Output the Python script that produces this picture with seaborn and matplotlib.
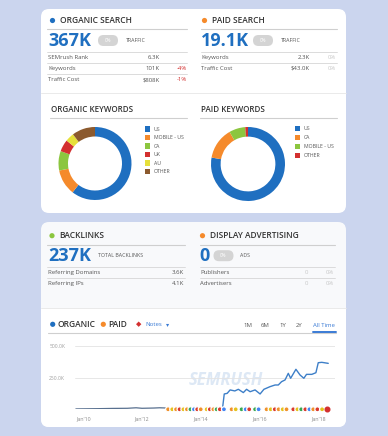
import matplotlib
matplotlib.use("Agg")
import matplotlib.pyplot as plt
import matplotlib.transforms as mtransforms
from matplotlib.patches import FancyBboxPatch, Circle, Rectangle
from matplotlib.lines import Line2D
import seaborn as sns
import pandas as pd

# ---------------- data ----------------
organic_labels = ["US", "MOBILE - US", "CA", "UK", "AU", "OTHER"]
organic_shares = [60.5, 11.4, 8.6, 5.3, 3.9, 10.3]
paid_labels = ["US", "CA", "MOBILE - US", "OTHER"]
paid_shares = [77.8, 13.9, 7.1, 1.2]

organic_rows = [("SEMrush Rank", "6.3K", ""), ("Keywords", "101K", "-4%"), ("Traffic Cost", "$808K", "-1%")]
paid_rows = [("Keywords", "2.3K", "0%"), ("Traffic Cost", "$43.0K", "0%")]
backlink_rows = [("Referring Domains", "3.6K"), ("Referring IPs", "4.1K")]
display_rows = [("Publishers", "0", "0%"), ("Advertisers", "0", "0%")]

early_dates = [2009.75, 2010.5, 2011.0, 2011.5, 2011.8, 2012.0, 2012.4, 2012.6, 2012.85]
early_traffic = [3000, 5000, 7000, 8000, 12000, 8000, 10000, 12000, 10000]
late_dates = [2014.74, 2014.80, 2014.90, 2015.00, 2015.16, 2015.28, 2015.45, 2015.56, 2015.68,
              2015.85, 2016.02, 2016.15, 2016.36, 2016.53, 2016.64, 2016.75, 2016.87, 2016.98,
              2017.06, 2017.24, 2017.38, 2017.51, 2017.60, 2017.78, 2017.92, 2018.00, 2018.12, 2018.34]
late_traffic = [5000, 121000, 126000, 153000, 145000, 158000, 132000, 158000, 139000,
                153000, 121000, 158000, 179000, 192000, 192000, 218000, 232000, 284000,
                245000, 316000, 271000, 245000, 276000, 276000, 289000, 368000, 371000, 363000]

note_dates = [2012.89, 2013.03, 2013.16, 2013.28, 2013.41, 2013.53, 2013.65, 2013.77, 2013.88, 2014.0,
              2014.2, 2014.31, 2014.43, 2014.54, 2014.65, 2014.79, 2015.05, 2015.19, 2015.39, 2015.53,
              2015.65, 2015.85, 2015.97, 2016.24, 2016.38, 2016.52, 2016.65, 2016.79, 2016.92, 2017.15,
              2017.29, 2017.42, 2017.56, 2017.7, 2017.83, 2017.97, 2018.13]
note_kind = ["O", "Y", "O", "R", "Y", "O", "G", "B", "R", "O",
             "Y", "R", "O", "G", "R", "B", "O", "Y", "G", "B",
             "R", "G", "B", "O", "Y", "R", "O", "Y", "O", "R",
             "Y", "G", "R", "B", "O", "R", "Y"]
xtick_years = [2010, 2012, 2014, 2016, 2018]
xtick_labels = ["Jan'10", "Jan'12", "Jan'14", "Jan'16", "Jan'18"]
ytick_values = [250000, 500000]
ytick_labels = ["250.0K", "500.0K"]

# ---------------- style ----------------
sns.set_theme(style="white")
plt.rcParams["font.family"] = ["Open Sans", "DejaVu Sans"]

W, H = 388, 436
BG = "#cbd5ee"
BLUE = "#1f6fc0"
ORANGE = "#f58a2b"
GREEN = "#8cc63f"
RED = "#d3302f"
YELLOW = "#e6e03a"
BROWN = "#8c5a2e"
DARK = "#333333"
MID = "#555555"
LINE = "#d6d6d6"

fig = plt.figure(figsize=(W / 100, H / 100), dpi=100, facecolor=BG)
px = mtransforms.Affine2D().scale(1 / W, -1 / H).translate(0, 1) + fig.transFigure


def T(x, y, s, size, color=DARK, ha="left", weight="normal", **kw):
    fig.text(x, y, s, fontsize=size, color=color, ha=ha, va="center",
             weight=weight, transform=px, **kw)


def hline(x0, x1, y, color=LINE, lw=0.6):
    fig.add_artist(Line2D([x0, x1], [y, y], color=color, lw=lw, transform=px, zorder=-1))


def rrect(x0, y0, x1, y1, r, color, zorder=-5):
    fig.add_artist(FancyBboxPatch((x0, y0), x1 - x0, y1 - y0,
                                  boxstyle=f"round,pad=0,rounding_size={r}",
                                  facecolor=color, edgecolor="none", transform=px, zorder=zorder))


def dot(x, y, r, color):
    fig.add_artist(Circle((x, y), r, facecolor=color, edgecolor="none", transform=px, zorder=2))


def pill(x0, x1, y, txt="0%"):
    rrect(x0, y - 5.5, x1, y + 5.5, 5.5, "#d4d4d4", zorder=1)
    T((x0 + x1) / 2, y, txt, 3.3, "white", ha="center")


# cards
rrect(41, 9, 346, 213, 8, "white", zorder=-10)
rrect(41, 222, 346, 427, 8, "#f8f9fb", zorder=-10)
fig.add_artist(Rectangle((41, 308), 305, 110, facecolor="white", edgecolor="none", transform=px, zorder=-9))
rrect(41, 400, 346, 427, 8, "white", zorder=-9)
hline(41, 346, 93, "#e6e6e6", 0.6)
hline(41, 346, 308, "#e6e6e6", 0.6)

# ---- organic search block
dot(52.5, 20.5, 2.6, BLUE)
T(60.5, 20.5, "ORGANIC SEARCH", 6, DARK, weight="semibold")
hline(47, 187, 29.5, "#cfcfcf", 0.8)
T(48.5, 40.5, "367K", 13, BLUE, weight="bold")
pill(98, 118, 40.5)
T(126, 40.5, "TRAFFIC", 3.8, MID)
hline(47, 187, 51.7)
ys = [57.3, 68.3, 79.5]
for (lab, val, pct), y in zip(organic_rows, ys):
    T(48, y, lab, 4.3, MID)
    T(159.5, y, val, 4.3, MID, ha="right")
    if pct:
        T(187, y, pct, 4.3, RED, ha="right")
hline(47, 187, 62.8)
hline(47, 187, 74)

# ---- paid search block
dot(204.5, 20.5, 2.6, ORANGE)
T(211.5, 20.5, "PAID SEARCH", 6, DARK, weight="semibold")
hline(201, 337, 29.5, "#cfcfcf", 0.8)
T(201, 40.5, "19.1K", 13, BLUE, weight="bold")
pill(253, 273, 40.5)
T(281, 40.5, "TRAFFIC", 3.8, MID)
hline(201, 337, 51.7)
for (lab, val, pct), y in zip(paid_rows, ys):
    T(201, y, lab, 4.3, MID)
    T(310, y, val, 4.3, MID, ha="right")
    T(336, y, pct, 4.3, "#c8c8c8", ha="right")
hline(201, 337, 62.8)

# ---- donuts
T(51, 109, "ORGANIC KEYWORDS", 5.8, DARK, weight="semibold")
hline(50, 187, 118, "#cfcfcf", 0.8)
T(201, 109, "PAID KEYWORDS", 5.8, DARK, weight="semibold")
hline(200, 337, 118, "#cfcfcf", 0.8)

org_colors = [BLUE, ORANGE, GREEN, RED, YELLOW, BROWN]
paid_colors = [BLUE, ORANGE, GREEN, RED]


def donut(cx, cy, r, shares, colors):
    ax = fig.add_axes([(cx - r) / W, 1 - (cy + r) / H, 2 * r / W, 2 * r / H])
    ax.pie(shares, colors=colors, startangle=90, counterclock=False,
           wedgeprops=dict(width=0.26, edgecolor="none"), radius=1)
    ax.set_xlim(-1, 1)
    ax.set_ylim(-1, 1)
    ax.set_aspect("equal")
    ax.axis("off")


donut(95, 163.5, 36.5, organic_shares, org_colors)
donut(248, 164, 37, paid_shares, paid_colors)

for i, (lab, col) in enumerate(zip(organic_labels, org_colors)):
    y = 129 + 8.5 * i
    fig.add_artist(Rectangle((145, y - 2.6), 5.2, 5.2, facecolor=col, edgecolor="none", transform=px))
    T(154, y, lab, 3.7, MID)
for i, (lab, col) in enumerate(zip(paid_labels, paid_colors)):
    y = 128.5 + 9.1 * i
    fig.add_artist(Rectangle((294.5, y - 2.6), 5.2, 5.2, facecolor=col, edgecolor="none", transform=px))
    T(303.5, y, lab, 3.7, MID)

# ---- backlinks
dot(52, 235.7, 2.6, GREEN)
T(59.5, 235.7, "BACKLINKS", 6, DARK, weight="semibold")
hline(47, 185, 244.5, "#cfcfcf", 0.8)
T(48.5, 255.7, "237K", 13, BLUE, weight="bold")
T(97.5, 255.7, "TOTAL BACKLINKS", 3.8, MID)
hline(47, 185, 266.7)
for (lab, val), y in zip(backlink_rows, [272.3, 283.3]):
    T(48, y, lab, 4.3, MID)
    T(184, y, val, 4.3, MID, ha="right")
hline(47, 185, 277.8)

# ---- display advertising
dot(202.5, 235.7, 2.6, ORANGE)
T(210, 235.7, "DISPLAY ADVERTISING", 6, DARK, weight="semibold")
hline(200, 335, 244.5, "#cfcfcf", 0.8)
T(199.5, 255.7, "0", 13, BLUE, weight="bold")
pill(213.5, 233.5, 255.7)
T(240, 255.7, "ADS", 3.8, MID)
hline(200, 335, 266.7)
for (lab, val, pct), y in zip(display_rows, [272.3, 283.3]):
    T(200, y, lab, 4.3, MID)
    T(306.7, y, val, 4.3, "#c8c8c8", ha="center")
    T(333.5, y, pct, 4.3, "#c8c8c8", ha="right")
hline(200, 335, 277.8)

# ---- chart header
dot(52.7, 324.3, 2.6, BLUE)
T(57.5, 324.3, "ORGANIC", 6, DARK, weight="semibold")
dot(103.3, 324.3, 2.6, ORANGE)
T(108.5, 324.3, "PAID", 6, DARK, weight="semibold")
T(138.3, 324.3, "◆", 5, RED, ha="center", family=["DejaVu Sans"])
T(145.5, 324.3, "Notes", 4.3, "#3a7bd5")
T(167.5, 324.3, "▾", 4.5, "#3a7bd5", ha="center", family=["DejaVu Sans"])
for lab, x in zip(["1M", "6M", "1Y", "2Y"], [248.3, 265, 282.7, 299.3]):
    T(x, 325, lab, 4.3, MID, ha="center")
T(324.3, 325, "All Time", 4.3, "#3a7bd5", ha="center")
hline(48, 336, 332.8, "#cfcfcf", 0.8)
fig.add_artist(Line2D([312.5, 336], [332.3, 332.3], color="#3a7bd5", lw=1.4, transform=px, zorder=1))

# ---- line chart
ax = fig.add_axes([75 / W, 1 - 409.3 / H, 260 / W, 63.3 / H])
ax.set_facecolor("none")
ax.text(0.58, 0.47, "SEMRUSH", transform=ax.transAxes, fontsize=12, color="#dde8f5",
        style="italic", weight="bold", ha="center", va="center", zorder=0)
early = pd.DataFrame({"date": early_dates, "traffic": early_traffic})
late = pd.DataFrame({"date": late_dates, "traffic": late_traffic})
sns.lineplot(data=early, x="date", y="traffic", ax=ax, color="#58708f", lw=0.9, zorder=3)
sns.lineplot(data=late, x="date", y="traffic", ax=ax, color="#3d7fc8", lw=1.0, zorder=3)
notes = pd.DataFrame({"date": note_dates, "y": [0] * len(note_dates), "kind": note_kind})
sns.scatterplot(data=notes, x="date", y="y", hue="kind", ax=ax, legend=False,
                palette={"O": "#f0902a", "Y": "#e5c21c", "R": "#d9392e", "G": "#38a852", "B": "#4285f4"},
                marker="o", s=13, facecolor="none", linewidth=0.9, clip_on=False, zorder=4)
ax.scatter([2018.29], [0], s=11, color=RED, clip_on=False, zorder=5)
ax.set_xlim(2009.72, 2018.57)
ax.set_ylim(0, 500000)
for v in [0] + ytick_values:
    ax.axhline(v, color="#e3e3e3", lw=0.6, zorder=1)
ax.set_yticks(ytick_values)
ax.set_yticklabels(ytick_labels)
ax.set_xticks(xtick_years)
ax.set_xticklabels(xtick_labels)
ax.tick_params(axis="y", length=0, pad=7, labelsize=3.6, labelcolor="#a0a0a0")
ax.tick_params(axis="x", length=0, pad=5, labelsize=3.8, labelcolor="#8a8a8a")
ax.set_xlabel("")
ax.set_ylabel("")
ax.grid(False)
for s in ax.spines.values():
    s.set_visible(False)

fig.savefig("out.png", dpi=100, facecolor=BG)
